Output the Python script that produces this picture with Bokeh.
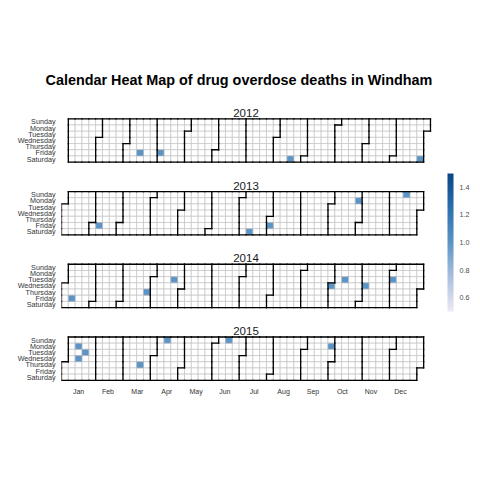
import datetime as dt
import numpy as np
from bokeh.plotting import figure
from bokeh.models import (Range1d, FixedTicker, LinearColorMapper, ColorBar,
                          ColumnDataSource, PrintfTickFormatter)
from bokeh.core.properties import value
from bokeh.embed import file_html
from bokeh.resources import INLINE

# ---------------- data ----------------
title_text = "Calendar Heat Map of drug overdose deaths in Windham"
years = [2012, 2013, 2014, 2015]
day_names = ["Sunday", "Monday", "Tuesday", "Wednesday", "Thursday", "Friday", "Saturday"]
month_labels = ["Jan", "Feb", "Mar", "Apr", "May", "Jun",
                "Jul", "Aug", "Sep", "Oct", "Nov", "Dec"]
month_tick_weeks = [2.0, 6.3, 10.6, 14.9, 19.2, 23.4, 27.7, 32.0, 36.3, 40.6, 44.8, 49.1]

death_dates = [
    "2012-03-16", "2012-04-06", "2012-08-18", "2012-12-29",
    "2013-02-08", "2013-07-13", "2013-08-02", "2013-10-28", "2013-12-15",
    "2014-01-10", "2014-03-27", "2014-04-22", "2014-10-01", "2014-10-14",
    "2014-11-05", "2014-12-02",
    "2015-01-12", "2015-01-14", "2015-01-20", "2015-03-19", "2015-04-12",
    "2015-06-14", "2015-09-28",
]
death_counts = [1, 1, 1, 1,
                1, 1, 1, 1, 1,
                1, 1, 1, 1, 1,
                1, 1,
                1, 1, 1, 1, 1,
                1, 1]
colorbar_ticks = [0.6, 0.8, 1.0, 1.2, 1.4]
fill_low, fill_high = 0.5, 1.5

# ---------------- style ----------------
FONT = "Liberation Sans"
PANEL_STEP = 11.75
anchor_colors = ["#eceaf4", "#a9c0df", "#5b94c7", "#2a70ad", "#0a4684"]


def hex_to_rgb(h):
    return [int(h[i:i + 2], 16) for i in (1, 3, 5)]


anchors = np.array([hex_to_rgb(c) for c in anchor_colors], dtype=float)
pos = np.linspace(0, 1, len(anchor_colors))
tt = np.linspace(0, 1, 256)
palette = []
for t in tt:
    rgb = [int(round(np.interp(t, pos, anchors[:, j]))) for j in range(3)]
    palette.append("#%02x%02x%02x" % tuple(rgb))


def row_y(k, dow):
    return 0.0 - (k * PANEL_STEP + dow)


def week_of(d):
    return int(d.strftime("%U"))


def dow_of(d):
    return int(d.strftime("%w"))


# ---------------- build cells ----------------
cx, cy = [], []
seg = set()
one = dt.timedelta(days=1)
seven = dt.timedelta(days=7)
for k, yr in enumerate(years):
    d = dt.date(yr, 1, 1)
    while d.year == yr:
        w, dw = week_of(d), dow_of(d)
        x, y = w, row_y(k, dw)
        cx.append(x)
        cy.append(y)

        def differs(n):
            return n.year != yr or n.month != d.month

        if differs(d - seven):
            seg.add((x - 0.5, y - 0.5, x - 0.5, y + 0.5))
        if differs(d + seven):
            seg.add((x + 0.5, y - 0.5, x + 0.5, y + 0.5))
        if dw == 0 or differs(d - one):
            seg.add((x - 0.5, y + 0.5, x + 0.5, y + 0.5))
        if dw == 6 or differs(d + one):
            seg.add((x - 0.5, y - 0.5, x + 0.5, y - 0.5))
        d += one

seg = sorted(seg)
seg_src = ColumnDataSource(dict(x0=[s[0] for s in seg], y0=[s[1] for s in seg],
                                x1=[s[2] for s in seg], y1=[s[3] for s in seg]))

dx, dy = [], []
for s in death_dates:
    d = dt.date.fromisoformat(s)
    k = years.index(d.year)
    dx.append(week_of(d))
    dy.append(row_y(k, dow_of(d)))
death_src = ColumnDataSource(dict(x=dx, y=dy, n=death_counts))

# ---------------- figure ----------------
p = figure(width=472, height=472,
           x_range=Range1d(-0.5, 59.65), y_range=Range1d(-41.94, 3.456),
           output_backend="svg", toolbar_location=None,
           min_border_left=61, min_border_right=0,
           min_border_top=100, min_border_bottom=91)
p.outline_line_color = None
p.grid.visible = False
p.background_fill_color = "white"

p.title.text = title_text
p.title.text_font = FONT
p.title.text_font_size = "14.4px"
p.title.text_font_style = "bold"
p.title.text_color = "black"
p.title.align = "left"
p.title.offset = -16
p.title.standoff = 25

mapper = LinearColorMapper(palette=palette, low=fill_low, high=fill_high)

p.rect(x=cx, y=cy, width=1, height=1, fill_color="white",
       line_color="#bebebe", line_width=0.6)
p.rect(x="x", y="y", width=1, height=1, source=death_src,
       fill_color={"field": "n", "transform": mapper},
       line_color="#bebebe", line_width=0.6)
p.segment(x0="x0", y0="y0", x1="x1", y1="y1", source=seg_src,
          line_color="black", line_width=1.3, line_cap="square")

p.text(x=[26.5] * len(years), y=[row_y(k, 0) + 0.5 for k in range(len(years))],
       text=[str(y) for y in years], text_align="center",
       text_baseline="alphabetic", y_offset=-6,
       text_font=value(FONT), text_font_size="11.5px", text_color="#1a1a1a")

# axes
p.xaxis.ticker = FixedTicker(ticks=month_tick_weeks)
p.xaxis.major_label_overrides = {t: m for t, m in zip(month_tick_weeks, month_labels)}
y_ticks = [row_y(k, d) for k in range(len(years)) for d in range(7)]
p.yaxis.ticker = FixedTicker(ticks=y_ticks)
p.yaxis.major_label_overrides = {row_y(k, d): day_names[d]
                                 for k in range(len(years)) for d in range(7)}
for ax in (p.xaxis, p.yaxis):
    ax.axis_line_color = None
    ax.major_tick_line_color = None
    ax.minor_tick_line_color = None
    ax.major_tick_in = 0
    ax.major_tick_out = 0
    ax.major_label_text_font = FONT
    ax.major_label_text_color = "#333333"
    ax.major_label_standoff = 6
p.xaxis.major_label_text_font_size = "7px"
p.yaxis.major_label_text_font_size = "7.2px"

cb = ColorBar(color_mapper=mapper, ticker=FixedTicker(ticks=colorbar_ticks),
              formatter=PrintfTickFormatter(format="%.1f"),
              location=(386, 70), width=6, height=138, padding=0, margin=0,
              major_label_text_font_size="7.2px", major_label_text_font=FONT,
              major_label_text_color="#4d4d4d",
              major_tick_line_color=None, minor_tick_line_color=None,
              bar_line_color=None, background_fill_color=None,
              border_line_color=None, label_standoff=6)
p.add_layout(cb)

open("out.html", "w").write(file_html(p, INLINE))
